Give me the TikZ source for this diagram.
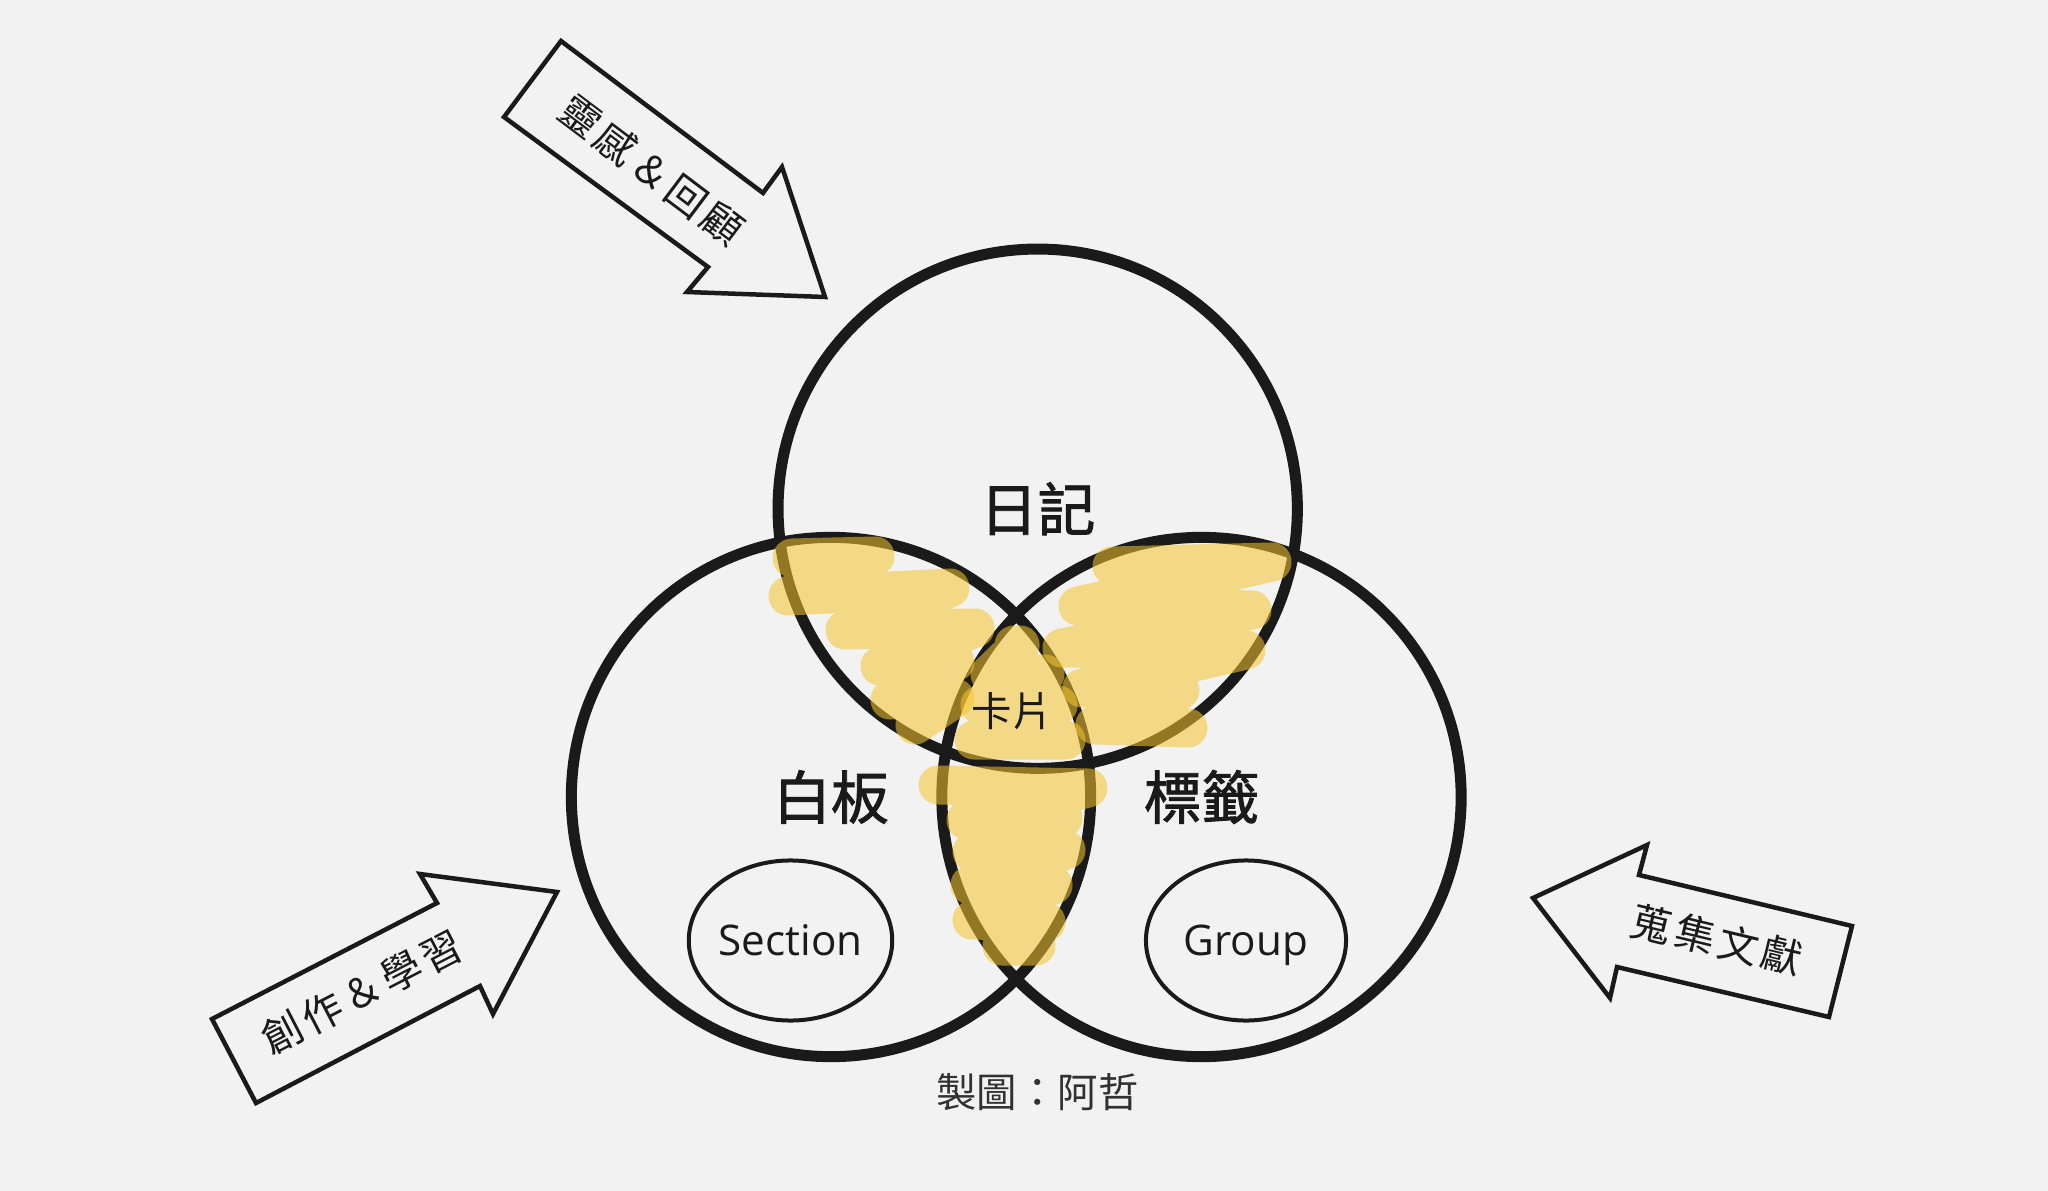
\documentclass[tikz,border=0pt]{standalone}
\usepackage{fontspec}
\setmainfont{Open Sans}
\newfontfamily\cjk{Noto Sans CJK TC}
\newfontfamily\cjkmid[FakeBold=1.6]{Noto Sans CJK TC}
\usetikzlibrary{shapes.geometric}
\definecolor{bg}{HTML}{F2F2F2}
\definecolor{ink}{HTML}{1A1A1A}
\definecolor{marker}{HTML}{F5C62F}

\begin{document}
\begin{tikzpicture}[x=0.01cm,y=-0.01cm,
	venn/.style={circle,draw=ink,line width=0.11cm,minimum size=5.19cm,inner sep=0pt,text=ink,
		font=\cjkmid\fontsize{16.4pt}{18pt}\selectfont},
	subset/.style={ellipse,draw=ink,line width=0.04cm,minimum width=2cm,minimum height=1.6cm,inner sep=0pt,text=ink,
		text height=0.85em,text depth=0em,font=\fontsize{12pt}{14pt}\selectfont},
	blockarrow/.style={draw=ink,line width=0.045cm,line join=miter},
	flow/.style={text=ink,font=\cjk\addfontfeature{LetterSpace=10}\fontsize{11.5pt}{13pt}\selectfont},
	highlight/.style={draw=marker,line width=0.39cm,line cap=round,line join=round,draw opacity=0.55}
	]
	\fill[bg] (0,0) rectangle (2048,1191);
	\useasboundingbox (0,0) rectangle (2048,1191);

	\node[venn] (diary) at (1037.7,508.7) {日記};
	\node[venn] (board) at (831,797) {白板};
	\node[venn] (tags) at (1201.5,797) {標籤};
	\node[subset] (section) at (790.5,940.5) {Section};
	\node[subset] (group) at (1246,940.5) {Group};

	\draw[highlight] (792,558) -- (875,556) -- (788,596) -- (950,588) -- (845,630) -- (975,628) -- (880,666)
		-- (955,662) -- (890,700) -- (955,698) -- (915,725);
	\draw[highlight] (1112,566) -- (1272,562) -- (1078,606) -- (1252,610) -- (1062,648) -- (1246,650)
		-- (1082,688) -- (1180,690) -- (1095,725) -- (1188,728);
	\draw[highlight] (1014,645) -- (1020,645) -- (990,674) -- (1045,674) -- (980,705) -- (1058,705)
		-- (974,740) -- (1066,740);
	\draw[highlight] (938,785) -- (1088,788) -- (966,820) -- (1063,818) -- (972,852) -- (1066,850)
		-- (970,885) -- (1053,885) -- (972,920) -- (1046,922) -- (1002,946) -- (1036,946);

	\node[text=ink,font=\cjk\fontsize{11.5pt}{13pt}\selectfont] (card) at (1012,711) {卡片};

	\draw[blockarrow] (561,41) -- (763,193) -- (782,167) -- (825,297) -- (687,292) -- (708,267) -- (504,117) -- cycle;
	\node[flow,rotate=-37] (inspire) at (652,170) {靈感＆回顧};

	\draw[blockarrow] (212,1019) -- (437,903) -- (420,874) -- (557,892) -- (493,1014) -- (480,986) -- (256,1103) -- cycle;
	\node[flow,rotate=27.3] (create) at (362,992) {創作＆學習};

	\draw[blockarrow] (1533,898) -- (1647,845) -- (1639,875) -- (1852,926) -- (1829,1017) -- (1617,967) -- (1610,998) -- cycle;
	\node[flow,rotate=-13.5] (collect) at (1717,940) {蒐集文獻};

	\node[text=ink!90,font=\cjk\fontsize{11.5pt}{13pt}\selectfont] (credit) at (1037.5,1092.5) {製圖：阿哲};
\end{tikzpicture}
\end{document}
